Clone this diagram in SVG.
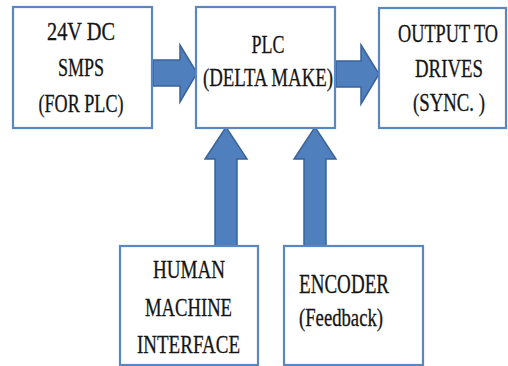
<svg xmlns="http://www.w3.org/2000/svg" width="508" height="366" viewBox="0 0 508 366">
<style>
.box{fill:#fff;stroke:#5b87c0;stroke-width:2.2}
.arr{fill:#4f7fbd;stroke:#3a6399;stroke-width:1.5;stroke-linejoin:miter}
.t{font-family:'Liberation Serif','DejaVu Serif',serif;font-size:25px;fill:#151515;stroke:#151515;stroke-width:0.3}
.c{text-anchor:middle}
</style>
<rect width="508" height="366" fill="#fff"/>
<g id="connectors">
<polygon class="arr" points="153,60 180,60 180,45 197,73 180,102 180,86 153,86"/>
<polygon class="arr" points="336,61 361,61 361,45 379,74 361,104 361,87 336,87"/>
<polygon class="arr" points="215,246 215,159 205,159 226,127 247,159 237,159 237,246"/>
<polygon class="arr" points="304,246 304,159 294,159 315,127 336,159 326,159 326,246"/>
</g>
<g id="smps">
<rect class="box" x="13" y="7" width="139" height="121"/>
<text class="t c" x="81" y="40" textLength="68" lengthAdjust="spacingAndGlyphs">24V  DC</text>
<text class="t c" x="81" y="76" textLength="46" lengthAdjust="spacingAndGlyphs">SMPS</text>
<text class="t c" x="81" y="112" textLength="85" lengthAdjust="spacingAndGlyphs">(FOR PLC)</text>
</g>
<g id="plc">
<rect class="box" x="196" y="7" width="139" height="121"/>
<text class="t c" x="268" y="53" textLength="33" lengthAdjust="spacingAndGlyphs">PLC</text>
<text class="t c" x="268" y="86" textLength="130" lengthAdjust="spacingAndGlyphs">(DELTA MAKE)</text>
</g>
<g id="output">
<rect class="box" x="379" y="8" width="127" height="120"/>
<text class="t c" x="448" y="42" textLength="100" lengthAdjust="spacingAndGlyphs">OUTPUT TO</text>
<text class="t c" x="449" y="77" textLength="68" lengthAdjust="spacingAndGlyphs">DRIVES</text>
<text class="t c" x="449" y="111" textLength="72" lengthAdjust="spacingAndGlyphs">(SYNC. )</text>
</g>
<g id="hmi">
<rect class="box" x="120" y="246" width="138" height="119"/>
<text class="t c" x="189" y="278" textLength="72" lengthAdjust="spacingAndGlyphs">HUMAN</text>
<text class="t c" x="188.5" y="316" textLength="87" lengthAdjust="spacingAndGlyphs">MACHINE</text>
<text class="t c" x="188.5" y="353" textLength="103" lengthAdjust="spacingAndGlyphs">INTERFACE</text>
</g>
<g id="encoder">
<rect class="box" x="284" y="246" width="139" height="119"/>
<text class="t" x="299" y="293" style="font-size:28px" textLength="90" lengthAdjust="spacingAndGlyphs">ENCODER</text>
<text class="t" x="299" y="326" textLength="84" lengthAdjust="spacingAndGlyphs">(Feedback)</text>
</g>
</svg>
